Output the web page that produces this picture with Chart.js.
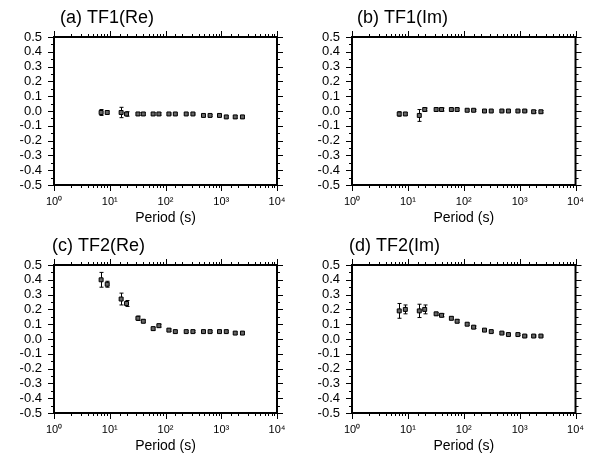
<!DOCTYPE html>
<html>
<head>
<meta charset="utf-8">
<script src="https://cdn.jsdelivr.net/npm/chart.js@4"></script>
<style>
  html, body { margin: 0; padding: 0; background: #fff; }
  #wrap { position: relative; width: 594px; height: 458px; }
  #wrap canvas { position: absolute; }
</style>
</head>
<body>
<div id="wrap">
  <canvas id="tf1re" width="297" height="229" style="left:0;top:0"></canvas>
  <canvas id="tf1im" width="297" height="229" style="left:297px;top:0"></canvas>
  <canvas id="tf2re" width="297" height="229" style="left:0;top:228px"></canvas>
  <canvas id="tf2im" width="297" height="229" style="left:297px;top:228px"></canvas>
</div>
<script>
// Periods (s) shared by all four panels
const periods = [7, 9, 16, 20, 32, 40, 60, 76, 115, 150, 235, 310, 480, 630, 930, 1230, 1780, 2400];

// TF1 real / imaginary
const tf1Re    = [-0.01, -0.01, -0.01, -0.02, -0.02, -0.02, -0.02, -0.02, -0.02, -0.02, -0.02, -0.02, -0.03, -0.03, -0.03, -0.04, -0.04, -0.04];
const tf1ReErr = [0.02, 0.01, 0.035, 0.015, 0.01, 0.01, 0.008, 0.008, 0.006, 0.006, 0.006, 0.006, 0.006, 0.006, 0.008, 0.008, 0.01, 0.01];
const tf1Im    = [-0.02, -0.02, -0.03, 0.01, 0.01, 0.01, 0.01, 0.01, 0.005, 0.005, 0.0, 0.0, 0.0, 0.0, 0.0, 0.0, -0.005, -0.005];
const tf1ImErr = [0.015, 0.01, 0.04, 0.01, 0.01, 0.01, 0.008, 0.008, 0.006, 0.006, 0.006, 0.006, 0.006, 0.006, 0.006, 0.006, 0.008, 0.008];

// TF2 real / imaginary
const tf2Re    = [0.40, 0.37, 0.27, 0.24, 0.14, 0.12, 0.07, 0.09, 0.06, 0.05, 0.05, 0.05, 0.05, 0.05, 0.05, 0.05, 0.04, 0.04];
const tf2ReErr = [0.05, 0.02, 0.04, 0.02, 0.015, 0.01, 0.01, 0.01, 0.008, 0.008, 0.006, 0.006, 0.006, 0.006, 0.006, 0.006, 0.008, 0.008];
const tf2Im    = [0.19, 0.20, 0.19, 0.20, 0.17, 0.16, 0.14, 0.12, 0.10, 0.08, 0.06, 0.05, 0.04, 0.03, 0.03, 0.02, 0.02, 0.02];
const tf2ImErr = [0.05, 0.03, 0.045, 0.03, 0.01, 0.01, 0.01, 0.01, 0.008, 0.008, 0.006, 0.006, 0.006, 0.006, 0.006, 0.006, 0.006, 0.006];

// Axis tick labels
const xTickLabels = ['10\u2070', '10\u00b9', '10\u00b2', '10\u00b3', '10\u2074'];
const yMin = -0.5, yMax = 0.5, yStep = 0.1;

Chart.defaults.font.family = '"Liberation Sans", Arial, sans-serif';
Chart.defaults.color = '#000';

const isDecade = v => {
    const e = Math.log10(v);
    return Math.abs(e - Math.round(e)) < 1e-9;
};

// Error bars drawn under the markers
const errorBars = {
    id: 'errorBars',
    beforeDatasetsDraw(chart) {
        const ctx = chart.ctx;
        const y = chart.scales.y;
        ctx.save();
        ctx.strokeStyle = '#000';
        ctx.lineWidth = 1;
        chart.data.datasets.forEach((ds, di) => {
            const meta = chart.getDatasetMeta(di);
            meta.data.forEach((pt, i) => {
                const v = ds.data[i].y, e = ds.errors[i];
                const top = y.getPixelForValue(v + e);
                const bot = y.getPixelForValue(v - e);
                const px = Math.round(pt.x) + 0.5;
                ctx.beginPath();
                ctx.moveTo(px, top); ctx.lineTo(px, bot);
                ctx.moveTo(px - 2, top); ctx.lineTo(px + 2, top);
                ctx.moveTo(px - 2, bot); ctx.lineTo(px + 2, bot);
                ctx.stroke();
            });
        });
        ctx.restore();
    }
};

// Frame with outward ticks on all sides, plus the panel title
const frame = {
    id: 'frame',
    afterDraw(chart, args, opts) {
        const ctx = chart.ctx;
        const a = chart.chartArea;
        const x = chart.scales.x, y = chart.scales.y;
        ctx.save();
        ctx.strokeStyle = '#000';
        ctx.lineWidth = 1;
        ctx.beginPath();
        x.ticks.forEach(t => {
            const px = Math.round(x.getPixelForValue(t.value)) + 0.5;
            const len = isDecade(t.value) ? 6 : 3;
            ctx.moveTo(px, a.bottom); ctx.lineTo(px, a.bottom + len);
            ctx.moveTo(px, a.top); ctx.lineTo(px, a.top - len);
        });
        y.ticks.forEach((t, i) => {
            const py = Math.round(y.getPixelForValue(t.value)) + 0.5;
            ctx.moveTo(a.left, py); ctx.lineTo(a.left - 6, py);
            ctx.moveTo(a.right, py); ctx.lineTo(a.right + 6, py);
            if (i < y.ticks.length - 1) {
                const pm = Math.round(y.getPixelForValue((t.value + y.ticks[i + 1].value) / 2)) + 0.5;
                ctx.moveTo(a.left, pm); ctx.lineTo(a.left - 3, pm);
                ctx.moveTo(a.right, pm); ctx.lineTo(a.right + 3, pm);
            }
        });
        ctx.stroke();
        ctx.lineWidth = 2;
        ctx.strokeRect(a.left, a.top, a.right - a.left, a.bottom - a.top);
        ctx.fillStyle = '#000';
        ctx.font = '18px "Liberation Sans", Arial, sans-serif';
        ctx.textBaseline = 'middle';
        ctx.textAlign = 'left';
        ctx.fillText(opts.text, a.left + opts.dx, 18);
        ctx.restore();
    }
};

function makePanel(id, title, titleDx, values, errors, axisW, padRight) {
    const ctx = document.getElementById(id).getContext('2d');
    return new Chart(ctx, {
        type: 'scatter',
        data: {
            datasets: [{
                data: periods.map((p, i) => ({x: p, y: values[i]})),
                errors: errors,
                pointStyle: 'rect',
                pointRadius: 2.8,
                borderWidth: 1,
                borderColor: '#000',
                backgroundColor: '#666',
                showLine: false
            }]
        },
        options: {
            responsive: false,
            animation: false,
            devicePixelRatio: 1,
            layout: {padding: {top: 37, right: padRight, left: 0, bottom: 0}},
            plugins: {
                legend: {display: false},
                tooltip: {enabled: false},
                frame: {text: title, dx: titleDx}
            },
            scales: {
                x: {
                    type: 'logarithmic',
                    min: 1,
                    max: 10000,
                    grid: {display: false, drawTicks: false},
                    border: {display: false},
                    ticks: {
                        autoSkip: false,
                        maxRotation: 0,
                        padding: 10,
                        font: {size: 11},
                        callback: v => isDecade(v) ? xTickLabels[Math.round(Math.log10(v))] : ''
                    },
                    title: {display: true, text: 'Period (s)', font: {size: 14}, padding: {top: 0, bottom: 2}},
                    afterFit: s => { s.height = 44; }
                },
                y: {
                    min: yMin,
                    max: yMax,
                    grid: {display: false, drawTicks: false},
                    border: {display: false},
                    ticks: {
                        stepSize: yStep,
                        autoSkip: false,
                        padding: 12,
                        font: {size: 13},
                        callback: v => {
                            const s = Number(v).toFixed(1);
                            return s === '-0.0' ? '0.0' : s;
                        }
                    },
                    afterFit: s => { s.width = axisW; }
                }
            }
        },
        plugins: [errorBars, frame]
    });
}

makePanel('tf1re', '(a) TF1(Re)', 6, tf1Re, tf1ReErr, 54, 20);
makePanel('tf1im', '(b) TF1(Im)', 5, tf1Im, tf1ImErr, 55, 18);
makePanel('tf2re', '(c) TF2(Re)', -2, tf2Re, tf2ReErr, 54, 20);
makePanel('tf2im', '(d) TF2(Im)', -3, tf2Im, tf2ImErr, 55, 18);
</script>
</body>
</html>
